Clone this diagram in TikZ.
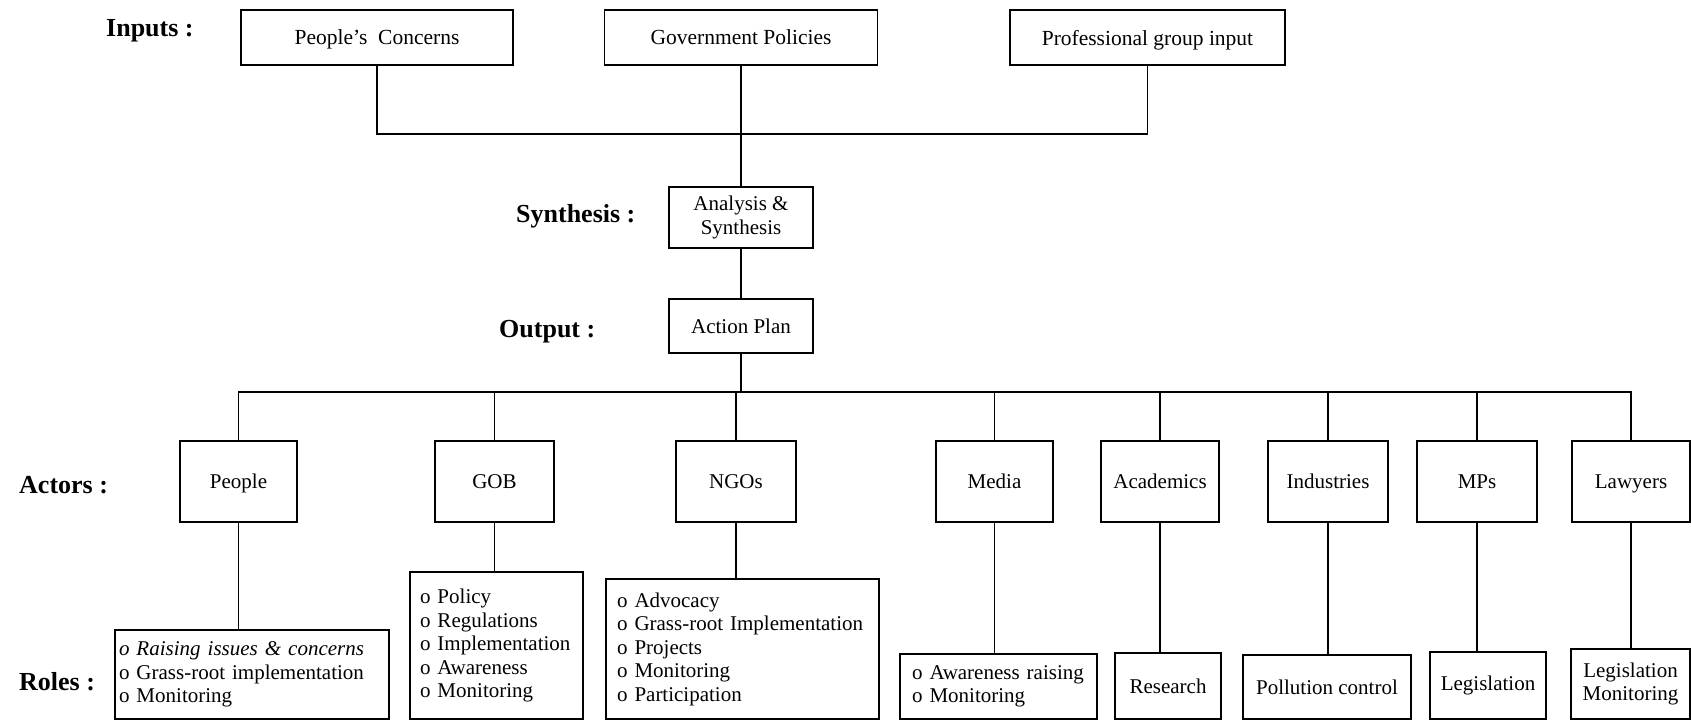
\documentclass[tikz,border=0pt]{standalone}
\usepackage{fontspec}
\setmainfont{Liberation Serif}
\begin{document}
\begin{tikzpicture}[x=1pt,y=-1pt,
  box/.style={draw, line width=1.7pt, inner sep=0pt, font=\fontsize{21}{23.5}\selectfont},
  topbox/.style={box, minimum height=55pt, text depth=0pt, font=\fontsize{21.5}{24}\selectfont},
  actor/.style={box, minimum width=118pt, minimum height=81pt, text depth=0pt},
  rolebox/.style={box, align=left},
  lbl/.style={anchor=west, inner sep=0pt, font=\fontsize{26}{30}\selectfont\bfseries},
  wire/.style={line width=1.7pt}]
\useasboundingbox (0,0) rectangle (1691,721);

% stage labels
\node[lbl] (linp) at (106,31) {Inputs :};
\node[lbl] (lsyn) at (516,216) {Synthesis :};
\node[lbl] (lout) at (499,332) {Output :};
\node[lbl] (lact) at (19,485) {Actors :};
\node[lbl] (lrol) at (19,682) {Roles :};

% inputs
\node[topbox, minimum width=272pt] (pc) at (377,37.5) {People's\ \ Concerns};
\node[topbox, minimum width=273pt] (gp) at (741,37.5) {Government Policies};
\node[topbox, minimum width=275pt] (pg) at (1147.5,37.5) {Professional group input};

% synthesis and output
\node[box, minimum width=144pt, minimum height=61pt, align=center] (ana) at (741,217.5) {Analysis \&\\Synthesis};
\node[box, minimum width=144pt, minimum height=54pt, text depth=0pt] (act) at (741,326) {Action Plan};

% junctions
\coordinate (j1) at (741,134);
\coordinate (j2) at (741,392);

% actors
\node[actor, minimum width=117pt] (a1) at (238.5,481.5) {People};
\node[actor, minimum width=119pt] (a2) at (494.5,481.5) {GOB};
\node[actor, minimum width=120pt] (a3) at (736,481.5) {NGOs};
\node[actor, minimum width=117pt] (a4) at (994.5,481.5) {Media};
\node[actor] (a5) at (1160,481.5) {Academics};
\node[actor, minimum width=120pt] (a6) at (1328,481.5) {Industries};
\node[actor, minimum width=120pt] (a7) at (1477,481.5) {MPs};
\node[actor] (a8) at (1631,481.5) {Lawyers};

% roles
\node[rolebox, inner xsep=4pt, text width=266pt, minimum height=89pt] (r1) at (252,674.5)
  {\textit{o Raising issues \& concerns}\\o Grass-root implementation\\o Monitoring};
\node[rolebox, inner xsep=10pt, text width=153pt, minimum height=147pt] (r2) at (496.5,645.5)
  {o Policy\\o Regulations\\o Implementation\\o Awareness\\o Monitoring};
\node[rolebox, inner xsep=11pt, text width=251pt, minimum height=140pt] (r3) at (742.5,649)
  {o Advocacy\\o Grass-root Implementation\\o Projects\\o Monitoring\\o Participation};
\node[rolebox, inner xsep=12pt, text width=173pt, minimum height=65pt] (r4) at (998.5,686.5)
  {o Awareness raising\\o Monitoring};
\node[box, minimum width=106pt, minimum height=66pt, text depth=0pt] (r5) at (1168,686) {Research};
\node[box, minimum width=168pt, minimum height=64pt, text depth=0pt] (r6) at (1327,687) {Pollution control};
\node[box, minimum width=116pt, minimum height=67pt] (r7) at (1488,685.5) {Legislation};
\node[box, minimum width=119pt, minimum height=70pt, align=center] (r8) at (1630.5,684) {Legislation\\Monitoring};

% inputs merge into the synthesis step
\draw[wire] (pc.south) |- (j1) -| (pg.south);
\draw[wire] (gp.south) -- (ana.north);
\draw[wire] (ana.south) -- (act.north);

% action plan distributed to the actors
\draw[wire] (act.south) -- (j2);
\foreach \a in {a1,a2,a3,a4,a5,a6,a7,a8}
  \draw[wire] (\a.north) |- (j2);

% actors to their roles
\foreach \a/\r in {a1/r1,a2/r2,a3/r3,a4/r4,a5/r5,a6/r6,a7/r7,a8/r8}
  \draw[wire] (\a.south) -- (\a.south |- \r.north);
\end{tikzpicture}
\end{document}
